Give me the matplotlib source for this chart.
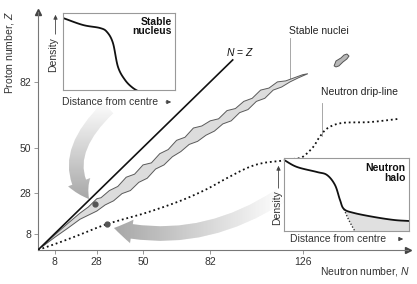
import numpy as np
import matplotlib
matplotlib.use("Agg")
import matplotlib.pyplot as plt
from matplotlib.patches import FancyArrowPatch, Polygon
from matplotlib.path import Path
from matplotlib.colors import LinearSegmentedColormap

plt.rcParams['font.family'] = ['Liberation Sans', 'DejaVu Sans']
plt.rcParams['mathtext.fontset'] = 'custom'
plt.rcParams['mathtext.it'] = 'Liberation Sans:italic'
plt.rcParams['mathtext.rm'] = 'Liberation Sans'

# ---------------- data ----------------
ticks_N = [8, 28, 50, 82, 126]
ticks_Z = [8, 28, 50, 82]

nz_line_N = [0, 93]
nz_line_Z = [0, 93]

stable_upper_N = [2, 8, 14, 20, 24, 28, 30, 34, 38, 42, 46, 50, 54, 58, 62, 66, 70, 74, 78,
                  82, 86, 90, 94, 98, 102, 106, 110, 114, 118, 122, 126, 128.5]
stable_upper_Z = [1.8, 7.4, 12.8, 18, 21, 25, 25.5, 29, 31, 35.5, 37, 41.5, 42.5, 47, 49, 53.5,
                  55, 59.5, 60.5, 63, 64, 68, 69, 72.5, 74, 78, 79, 82, 82.5, 84, 85.5, 86]
stable_lower_N = [128.5, 124, 120, 116, 112, 108, 104, 100, 96, 92, 88, 84, 80, 76, 72, 68,
                  64, 60, 56, 52, 48, 44, 40, 36, 32, 28, 24, 20, 14, 8, 2]
stable_lower_Z = [86, 84, 82, 79.5, 78, 74, 72.5, 68.5, 67, 63, 61.5, 58, 56, 53, 51.5, 48,
                  45.5, 41.5, 39.5, 35, 33, 29, 27.5, 24, 22, 19, 17, 15, 10.5, 6.2, 1.6]

island_N = [141, 141.9, 144.3, 145.7, 147.1, 148.1, 147.1, 145.2, 143.3, 141.9]
island_Z = [89.8, 92.2, 93.7, 95.1, 95.6, 94.6, 93.2, 91.7, 89.8, 89.3]

drip_N = [0, 10, 20, 33, 51, 67.6, 80, 88, 99.5, 107, 115, 122, 126, 131, 134, 138, 145, 158, 172]
drip_Z = [0, 3.6, 7.5, 12.7, 18, 23.9, 29.5, 34, 40, 42.4, 43.4, 44.5, 45.4, 50.2, 55, 59.5, 62, 62.4, 64]

dot_stable = (27, 22.4)
dot_drip = (33, 12.7)

# inset density profiles (normalised distance, density)
stable_r = [0, 0.179, 0.33, 0.393, 0.446, 0.491, 0.554, 0.625, 0.705]
stable_rho = [0.935, 0.844, 0.805, 0.753, 0.61, 0.30, 0.13, 0.026, -0.04]

halo_r = [0, 0.104, 0.264, 0.344, 0.408, 0.448, 0.48, 0.56, 0.72, 0.88, 1.0]
halo_rho = [0.973, 0.877, 0.808, 0.767, 0.63, 0.425, 0.30, 0.247, 0.192, 0.151, 0.137]
core_r = [0.48, 0.51, 0.54, 0.57]
core_rho = [0.30, 0.18, 0.08, -0.01]


def smooth(xs, ys, k=12):
    """Catmull-Rom rendering through the given points."""
    p = np.column_stack([xs, ys]).astype(float)
    p = np.vstack([p[0] * 2 - p[1], p, p[-1] * 2 - p[-2]])
    out = []
    t = np.linspace(0, 1, k, endpoint=False)[:, None]
    for i in range(1, len(p) - 2):
        p0, p1, p2, p3 = p[i - 1], p[i], p[i + 1], p[i + 2]
        seg = 0.5 * ((2 * p1) + (-p0 + p2) * t + (2 * p0 - 5 * p1 + 4 * p2 - p3) * t ** 2
                     + (-p0 + 3 * p1 - 3 * p2 + p3) * t ** 3)
        out.append(seg)
    out.append(p[-2][None, :])
    out = np.vstack(out)
    return out[:, 0], out[:, 1]


# ---------------- figure ----------------
W, H = 417, 284
fig = plt.figure(figsize=(W / 100, H / 100), dpi=100)
fig.patch.set_facecolor('white')


def fpos(x0, y0, x1, y1):
    return [x0 / W, 1 - y1 / H, (x1 - x0) / W, (y1 - y0) / H]


def fp(x, y):
    return (x / W, 1 - y / H)


# overlay axes in pixel coordinates for the grey arrows
ov = fig.add_axes([0, 0, 1, 1], zorder=0.5)
ov.set_xlim(0, W)
ov.set_ylim(H, 0)
ov.axis('off')

cmap = LinearSegmentedColormap.from_list('g', ['#ffffff', '#a3a3a3'])

p1 = Path([(108, 108), (56, 158), (89, 199)], [Path.MOVETO, Path.CURVE3, Path.CURVE3])
a1 = FancyArrowPatch(path=p1, arrowstyle='simple,head_length=1.4,head_width=1.7,tail_width=1.05',
                     mutation_scale=10, facecolor='#f4f4f4', edgecolor='none', zorder=1)
ov.add_patch(a1)
g1 = np.linspace(0, 1, 100).reshape(-1, 1)
im1 = ov.imshow(g1, extent=(40, 140, 205, 100), cmap=cmap, aspect='auto', zorder=2,
                vmin=0, vmax=1)
im1.set_clip_path(a1)

p2 = Path([(280, 196), (200, 248), (114, 228)], [Path.MOVETO, Path.CURVE3, Path.CURVE3])
a2 = FancyArrowPatch(path=p2, arrowstyle='simple,head_length=1.3,head_width=1.7,tail_width=1.05',
                     mutation_scale=10, facecolor='#f4f4f4', edgecolor='none', zorder=1)
ov.add_patch(a2)
g2 = np.linspace(1, 0, 100).reshape(1, -1)
im2 = ov.imshow(g2, extent=(105, 285, 255, 185), cmap=cmap, aspect='auto', zorder=2,
                vmin=0, vmax=1)
im2.set_clip_path(a2)
ov.set_xlim(0, W)
ov.set_ylim(H, 0)

# main axes
ax = fig.add_axes(fpos(38, 12, 408, 250), zorder=1)
ax.patch.set_alpha(0)
ax.set_xlim(0, 370 / 2.1)
ax.set_ylim(0, 238 / 2.05)
for s in ['top', 'right']:
    ax.spines[s].set_visible(False)
for s in ['left', 'bottom']:
    ax.spines[s].set_color('#777777')
    ax.spines[s].set_linewidth(0.8)
ax.set_xticks(ticks_N)
ax.set_yticks(ticks_Z)
ax.set_xticklabels([str(t) for t in ticks_N])
ax.set_yticklabels([str(t) for t in ticks_Z])
ax.tick_params(length=3, width=0.6, color='#888888', labelsize=7.5, labelcolor='#333333', pad=2)
ax.plot(1, 0, marker='>', color='#444444', markersize=5, transform=ax.transAxes, clip_on=False)
ax.plot(0, 1, marker='^', color='#444444', markersize=5, transform=ax.transAxes, clip_on=False)

band = Polygon(list(zip(stable_upper_N + stable_lower_N, stable_upper_Z + stable_lower_Z)),
               closed=True, facecolor='#dcdcdc', edgecolor='#5a5a5a', linewidth=0.7, zorder=3)
ax.add_patch(band)
isl = Polygon(list(zip(island_N, island_Z)), closed=True, facecolor='#b8b8b8',
              edgecolor='#555555', linewidth=0.7, zorder=3)
ax.add_patch(isl)

ax.plot(nz_line_N, nz_line_Z, color='#111111', linewidth=1.2, zorder=4, solid_capstyle='butt')
dx, dy = smooth(drip_N, drip_Z)
ax.plot(dx, dy, color='#111111', linewidth=1.3, linestyle=(0, (1, 1.6)), zorder=4)
ax.plot(*dot_stable, marker='o', color='#555555', markersize=3.5, zorder=5)
ax.plot(*dot_drip, marker='o', color='#555555', markersize=3.5, zorder=5)

ax.text(96, 96.5, r'$N$ = $Z$', fontsize=7.5, ha='center', va='center', color='#111111')
ax.text(119.3, 106.8, 'Stable nuclei', fontsize=7.5, ha='left', va='center', color='#222222')
ax.plot([120, 120], [103.5, 83.5], color='#999999', linewidth=0.6)
ax.text(134.7, 74.5, 'Neutron drip-line', fontsize=7.5, ha='left', va='bottom', color='#222222')
ax.plot([135.2, 135.2], [71.5, 55.5], color='#999999', linewidth=0.6)

fig.text(*fp(10, 52), r'Proton number, $Z$', rotation=90, fontsize=7.5, ha='center',
         va='center', color='#333333')
fig.text(*fp(410, 272), r'Neutron number, $N$', fontsize=7.5, ha='right', va='center',
         color='#333333')

# inset 1: stable nucleus
i1 = fig.add_axes(fpos(63, 13, 175, 90), zorder=3)
i1.set_facecolor('white')
i1.set_xlim(0, 1)
i1.set_ylim(0, 1)
i1.set_xticks([])
i1.set_yticks([])
for s in i1.spines.values():
    s.set_color('#999999')
    s.set_linewidth(0.8)
sx, sy = smooth(stable_r, stable_rho)
i1.plot(sx, sy, color='#111111', linewidth=1.3)
i1.text(0.97, 0.95, 'Stable\nnucleus', transform=i1.transAxes, ha='right', va='top',
        fontsize=7.5, fontweight='bold', linespacing=0.95, color='#111111')
fig.text(*fp(62, 102), 'Distance from centre', fontsize=7.5, ha='left', va='center', color='#333333')
fig.text(*fp(53, 55), 'Density', fontsize=7.5, rotation=90, ha='center', va='center', color='#333333')
fig.add_artist(FancyArrowPatch(fp(163, 102), fp(174, 102), transform=fig.transFigure,
                               arrowstyle='-|>,head_length=2.5,head_width=1.2', color='#444444',
                               linewidth=0.6, mutation_scale=1))
fig.add_artist(FancyArrowPatch(fp(55.5, 37), fp(55.5, 12), transform=fig.transFigure,
                               arrowstyle='-|>,head_length=2.5,head_width=1.2', color='#444444',
                               linewidth=0.6, mutation_scale=1))

# inset 2: neutron halo
i2 = fig.add_axes(fpos(284, 158, 409, 231), zorder=3)
i2.set_facecolor('white')
i2.set_xlim(0, 1)
i2.set_ylim(0, 1)
i2.set_xticks([])
i2.set_yticks([])
for s in i2.spines.values():
    s.set_color('#999999')
    s.set_linewidth(0.8)
hx, hy = smooth(halo_r, halo_rho)
cx, cy = smooth(core_r, core_rho)
mask = hx >= core_r[0]
fill_r = hx[mask]
fill_top = hy[mask]
fill_bot = np.clip(np.interp(fill_r, cx, cy, right=0), 0, None)
i2.fill_between(fill_r, fill_bot, fill_top, color='#e0e0e0', linewidth=0)
i2.plot(cx, cy, color='#333333', linewidth=1.0, linestyle=(0, (1, 1.3)))
i2.plot(hx, hy, color='#111111', linewidth=1.3)
i2.text(0.97, 0.93, 'Neutron\nhalo', transform=i2.transAxes, ha='right', va='top',
        fontsize=7.5, fontweight='bold', linespacing=0.95, color='#111111')
fig.text(*fp(290, 239), 'Distance from centre', fontsize=7.5, ha='left', va='center', color='#333333')
fig.text(*fp(277, 208), 'Density', fontsize=7.5, rotation=90, ha='center', va='center', color='#333333')
fig.add_artist(FancyArrowPatch(fp(396, 239), fp(406, 239), transform=fig.transFigure,
                               arrowstyle='-|>,head_length=2.5,head_width=1.2', color='#444444',
                               linewidth=0.6, mutation_scale=1))
fig.add_artist(FancyArrowPatch(fp(278.5, 191), fp(278.5, 163), transform=fig.transFigure,
                               arrowstyle='-|>,head_length=2.5,head_width=1.2', color='#444444',
                               linewidth=0.6, mutation_scale=1))

fig.savefig('out.png', dpi=100, facecolor='white')
